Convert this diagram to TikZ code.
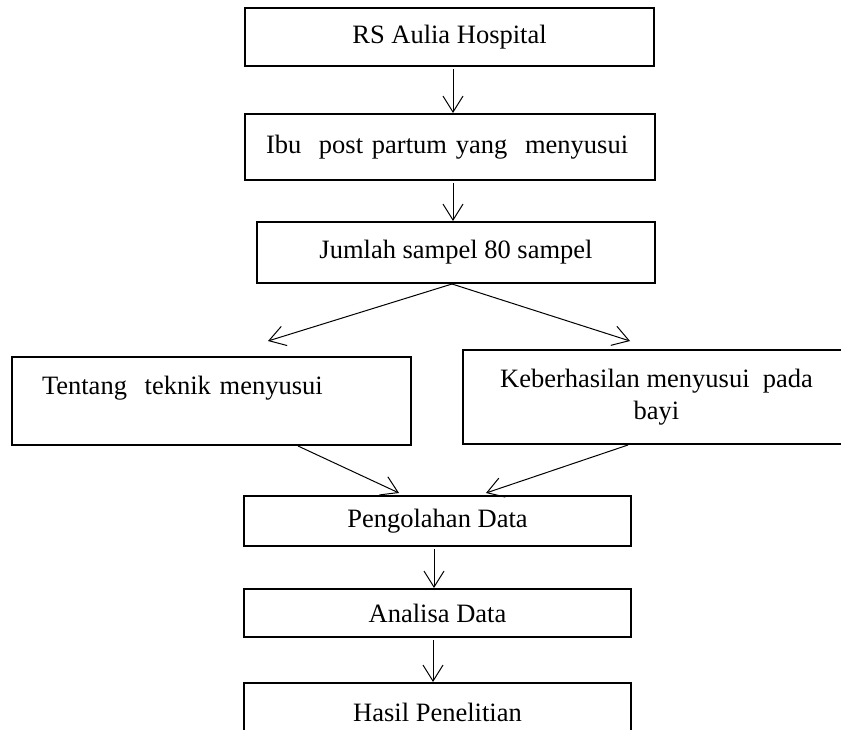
\documentclass[tikz,border=0pt]{standalone}
\usepackage{fontspec}
\setmainfont{Liberation Serif}
\usepackage{tikz}
\usetikzlibrary{arrows.meta, positioning}

\begin{document}
\begin{tikzpicture}[
    x=1pt, y=-1pt,
    font=\fontsize{26.5}{32}\selectfont,
    box/.style={draw, line width=2pt, align=center, inner sep=0pt},
    arrow/.style={-{Straight Barb[length=16pt, width=20pt]}, line width=1pt}
]
\clip (0,0) rectangle (841,730);

\node[box, minimum width=409, minimum height=58] (hospital) at (449.5,37) {RS Aulia Hospital};
\node[box, minimum width=410, minimum height=66, text width=368, align=left] (ibu) at (450,147) {Ibu~~post partum yang~~menyusui};
\node[box, minimum width=398, minimum height=61] (sampel) at (456,252.5) {Jumlah sampel 80 sampel};
\node[box, minimum width=399, minimum height=88, text width=339, align=left] (teknik) at (211.5,401) {Tentang~~teknik menyusui\\ \mbox{}};
\node[box, minimum width=387, minimum height=94] (berhasil) at (656.5,397) {Keberhasilan menyusui~~pada\\bayi};
\node[box, minimum width=387, minimum height=50] (olah) at (437.5,521) {Pengolahan Data};
\node[box, minimum width=387, minimum height=48] (analisa) at (437.5,613) {Analisa Data};
\node[box, minimum width=387, minimum height=58] (hasil) at (437.5,712) {Hasil Penelitian};

\coordinate (tipL) at (268,341);
\coordinate (tipR) at (630,341);

\foreach \a/\b/\s in {hospital/ibu/3.5, ibu/sampel/3, olah/analisa/-3.5, analisa/hasil/-4.5}{
    \draw[arrow] ([xshift=\s pt, yshift=-2pt]\a.south) -- ([xshift=\s pt]\a.south |- \b.north);}
\draw[arrow] ([xshift=-4pt]sampel.south) -- (tipL);
\draw[arrow] ([xshift=-4pt]sampel.south) -- (tipR);
\draw[arrow] ([xshift=86.5pt]teknik.south) -- ([xshift=-38.5pt, yshift=2pt]olah.north);
\draw[arrow] ([xshift=-28.5pt]berhasil.south) -- ([xshift=48.5pt, yshift=2pt]olah.north);
\end{tikzpicture}
\end{document}
